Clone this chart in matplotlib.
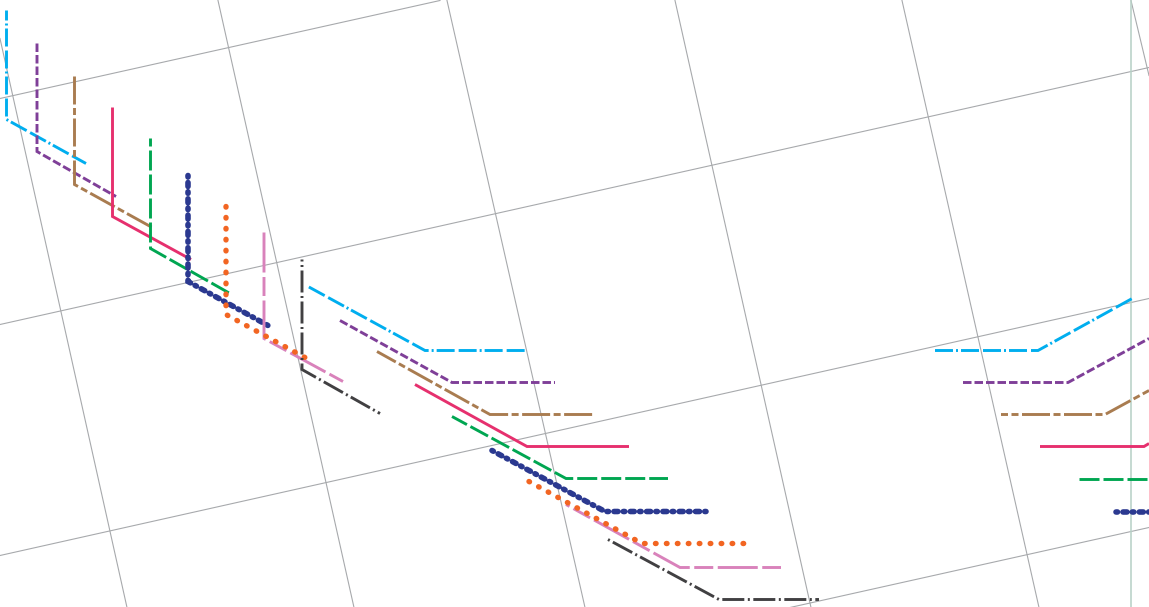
import matplotlib
matplotlib.use("Agg")
import matplotlib.pyplot as plt

WIDTH = 1149
HEIGHT = 607

# grid lines in pixels
grid_rising = [
    [(0, 98), (440, 0)],
    [(0, 324), (1149, 67)],
    [(0, 555), (1149, 298)],
    [(790, 607), (1149, 527)],
]
grid_falling = [
    [(0, 38), (127, 607)],
    [(218, 0), (354, 607)],
    [(447, 0), (585, 607)],
    [(675, 0), (811, 607)],
    [(902, 0), (1039, 607)],
    [(1131, 0), (1149, 75)],
]
edge_line = [(1131, 0), (1131, 607)]

cyan_legs = [
    [(6.5, 10), (6.5, 119), (86, 163)],
    [(308, 286), (425, 350), (525, 350)],
    [(935, 350), (1038, 350), (1134, 297)],
]
purple_legs = [
    [(37, 43), (37, 151), (116, 196)],
    [(340, 320), (452, 382), (555, 382)],
    [(963, 382), (1068, 382), (1149, 338)],
]
brown_legs = [
    [(74.5, 76), (74.5, 184), (154, 228)],
    [(377, 351), (490, 414), (593, 414)],
    [(1001, 414), (1105, 414), (1149, 390)],
]
red_legs = [
    [(112.5, 107), (112.5, 216), (191, 259)],
    [(415, 384), (527, 446), (629, 446)],
    [(1040, 446), (1144, 446), (1149, 443)],
]
green_legs = [
    [(150.5, 138), (150.5, 248), (230, 293)],
    [(452, 416), (566, 478), (668, 478)],
    [(1079, 478), (1149, 478)],
]
navy_legs = [
    [(188, 175), (188, 281), (268, 325)],
    [(492, 450), (605, 511), (706, 511)],
    [(1116, 511), (1149, 511)],
]
pink_legs = [
    [(264, 232), (264, 338), (343, 381)],
    [(566, 504), (680, 567), (781, 567)],
]
orange_legs = [
    [(226, 206), (226, 314), (305, 357)],
    [(529, 481), (642, 543), (744, 543)],
]
dark_legs = [
    [(302, 259), (302, 369), (380, 413)],
    [(608, 539), (719, 599), (819, 599)],
]


def px(value):
    return value * 72 / 100


def draw_legs(ax, legs, color, dashes=None, offsets=None, width=2.9, cap="butt"):
    for i, leg in enumerate(legs):
        xs = [p[0] for p in leg]
        ys = [p[1] for p in leg]
        line, = ax.plot(xs, ys, color=color, lw=px(width), solid_capstyle=cap,
                        dash_capstyle=cap, solid_joinstyle="miter",
                        dash_joinstyle="miter")
        if dashes:
            phase = offsets[i] if offsets else 0
            line.set_linestyle((px(phase), [px(d) for d in dashes]))


plt.rcParams["lines.scale_dashes"] = False

fig = plt.figure(figsize=(WIDTH / 100, HEIGHT / 100), dpi=100)
ax = fig.add_axes([0, 0, 1, 1])
ax.set_xlim(0, WIDTH)
ax.set_ylim(HEIGHT - 0.5, -0.5)
ax.axis("off")

for seg in grid_rising + grid_falling:
    ax.plot([p[0] for p in seg], [p[1] for p in seg], color="#a7a9ac", lw=px(1.1))
ax.plot([p[0] for p in edge_line], [p[1] for p in edge_line], color="#b9d2c8", lw=px(1.6))

draw_legs(ax, cyan_legs, "#00aeef", (18, 4, 18, 3, 2, 3), (30, 47, 22))
draw_legs(ax, purple_legs, "#7f3f98", (8.5, 3))
draw_legs(ax, brown_legs, "#a97c50", (28, 3.5, 7, 3.5), (0, 6.5, 21))
draw_legs(ax, red_legs, "#e6306e")
draw_legs(ax, green_legs, "#00a651", (20, 4), (12, 3, 0))
draw_legs(ax, navy_legs, "#2b3990", (1.5, 5.5, 4, 5.3), width=5.6, cap="round")
draw_legs(ax, pink_legs, "#d982bb", (40, 4.5, 19, 4.5), (0, 36))
draw_legs(ax, orange_legs, "#f26522", (0.6, 10.35), width=5.4, cap="round")
draw_legs(ax, dark_legs, "#414042", (22, 3.5, 2, 3.5), (20, 25.5))

fig.savefig("out.png", dpi=100)
